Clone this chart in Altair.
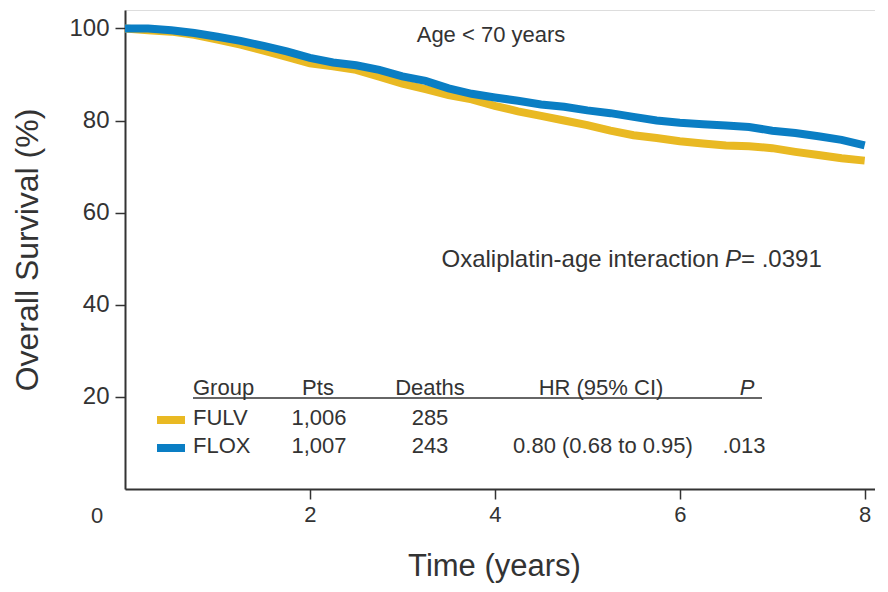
import altair as alt
import pandas as pd

# ---- data ----
years = [0, 0.25, 0.5, 0.75, 1.0, 1.25, 1.5, 1.75, 2.0, 2.25, 2.5, 2.75, 3.0, 3.25,
         3.5, 3.75, 4.0, 4.25, 4.5, 4.75, 5.0, 5.25, 5.5, 5.75, 6.0, 6.25, 6.5,
         6.75, 7.0, 7.25, 7.5, 7.75, 8.0]
flox = [100, 100, 99.6, 99.0, 98.2, 97.3, 96.2, 95.0, 93.6, 92.6, 92.0, 91.0, 89.6,
        88.6, 87.0, 85.8, 85.0, 84.3, 83.5, 83.0, 82.2, 81.6, 80.8, 80.0, 79.5,
        79.2, 78.9, 78.6, 77.8, 77.3, 76.6, 75.8, 74.6]
fulv = [100, 99.6, 99.3, 98.6, 97.6, 96.5, 95.2, 93.8, 92.4, 91.8, 91.0, 89.5, 88.0,
        86.8, 85.5, 84.6, 83.2, 82.0, 81.0, 80.0, 79.0, 77.8, 76.8, 76.2, 75.5,
        75.0, 74.6, 74.4, 74.0, 73.2, 72.5, 71.8, 71.3]

groups = ["FULV", "FLOX"]
pts = ["1,006", "1,007"]
deaths = ["285", "243"]
hr = ["", "0.80 (0.68 to 0.95)"]
pvals = ["", ".013"]
headers = ["Group", "Pts", "Deaths", "HR (95% CI)"]
x_ticks = [2, 4, 6, 8]
y_ticks = [20, 40, 60, 80, 100]

YELLOW = "#e9b923"
BLUE = "#0a7ec4"
TXT = "#333333"
FONT = "Liberation Sans"

W, H = 750, 479
XMAX = W / 92.46
YMAX = 104

xs = alt.Scale(domain=[0, XMAX], nice=False, zero=False)
ys = alt.Scale(domain=[0, YMAX], nice=False)

df_fulv = pd.DataFrame({"t": years, "s": fulv})
df_flox = pd.DataFrame({"t": years, "s": flox})

x_enc = alt.X("t:Q", scale=xs, axis=alt.Axis(
    values=x_ticks, format="d", title="Time (years)", grid=False, tickSize=10,
    tickWidth=1.5, tickColor=TXT, domainColor=TXT, domainWidth=2, labelFont=FONT,
    labelFontSize=22, labelColor=TXT, labelPadding=5, labelBound=False,
    titleFont=FONT, titleFontSize=31, titleFontWeight="normal", titleColor=TXT,
    titlePadding=26, titleX=369))
y_enc = alt.Y("s:Q", scale=ys, axis=alt.Axis(
    values=y_ticks, title="Overall Survival (%)", grid=False, tickSize=10,
    tickWidth=1.5, tickColor=TXT, domainColor=TXT, domainWidth=2, labelFont=FONT,
    labelFontSize=24, labelColor=TXT, labelPadding=6, titleFont=FONT,
    titleFontSize=32, titleFontWeight="normal", titleColor=TXT, titlePadding=24))

line_fulv = alt.Chart(df_fulv).mark_line(color=YELLOW, strokeWidth=8, strokeCap="butt").encode(
    x=x_enc, y=y_enc)
line_flox = alt.Chart(df_flox).mark_line(color=BLUE, strokeWidth=8, strokeCap="butt").encode(
    x="t:Q", y="s:Q")


def px_x(p):
    return (p - 125) / 92.46


def px_y(p):
    return (489 - p) / 4.606


def text_layer(rows, size=22, align="left", style="normal", baseline="alphabetic"):
    d = pd.DataFrame(rows, columns=["t", "s", "label"])
    return alt.Chart(d).mark_text(font=FONT, fontSize=size, color=TXT, align=align,
                                  baseline=baseline, fontStyle=style).encode(
        x="t:Q", y="s:Q", text="label:N")


zero_label = alt.Chart(pd.DataFrame({"t": [0], "s": [0], "label": ["0"]})).mark_text(
    font=FONT, fontSize=22, color=TXT, align="center", baseline="middle", dx=-28, dy=27
).encode(x="t:Q", y="s:Q", text="label:N")

title_txt = text_layer([(px_x(491), px_y(35), "Age < 70 years")], size=22,
                       align="center", baseline="middle")

inter1 = text_layer([(px_x(719), px_y(260), "Oxaliplatin-age interaction")], size=24,
                    align="right", baseline="middle")
inter2 = text_layer([(px_x(725), px_y(260), "P")], size=24, style="italic", baseline="middle")
inter3 = text_layer([(px_x(741), px_y(260), "= .0391")], size=24, baseline="middle")

hdr_y = px_y(395)
row_y = [px_y(425), px_y(453)]
hdr_rows = [(px_x(193), hdr_y, headers[0])]
hdr_center = [(px_x(318), hdr_y, headers[1]), (px_x(430), hdr_y, headers[2]),
              (px_x(601), hdr_y, headers[3])]
header_left = text_layer(hdr_rows)
header_center = text_layer(hdr_center, align="center")
header_p = text_layer([(px_x(747), hdr_y, "P")], align="center", style="italic")

body_left = text_layer([(px_x(193), row_y[i], groups[i]) for i in range(2)])
body_center = text_layer(
    [(px_x(319), row_y[i], pts[i]) for i in range(2)]
    + [(px_x(430), row_y[i], deaths[i]) for i in range(2)]
    + [(px_x(603), row_y[i], hr[i]) for i in range(2) if hr[i]]
    + [(px_x(744), row_y[i], pvals[i]) for i in range(2) if pvals[i]],
    align="center")

underline = alt.Chart(pd.DataFrame({"t": [px_x(193)], "t2": [px_x(762)], "s": [px_y(398)]})).mark_rule(
    color=TXT, strokeWidth=1.5).encode(x="t:Q", x2="t2:Q", y="s:Q")

sw = pd.DataFrame({"t": [px_x(157)] * 2, "t2": [px_x(185)] * 2,
                   "s": [px_y(420), px_y(448)], "g": groups})
swatches = alt.Chart(sw).mark_rule(strokeWidth=8).encode(
    x="t:Q", x2="t2:Q", y="s:Q",
    color=alt.Color("g:N", scale=alt.Scale(domain=groups, range=[YELLOW, BLUE]), legend=None))

chart = alt.layer(
    line_fulv, line_flox, zero_label, title_txt, inter1, inter2, inter3,
    header_left, header_center, header_p, body_left, body_center, underline, swatches
).properties(
    width=W, height=H,
    autosize=alt.AutoSizeParams(type="none"),
    padding={"left": 117, "top": 2, "right": 0, "bottom": 95},
).configure_view(stroke=None).configure(background="white")

chart.save("out.html", embed_options={"renderer": "svg", "actions": False})
